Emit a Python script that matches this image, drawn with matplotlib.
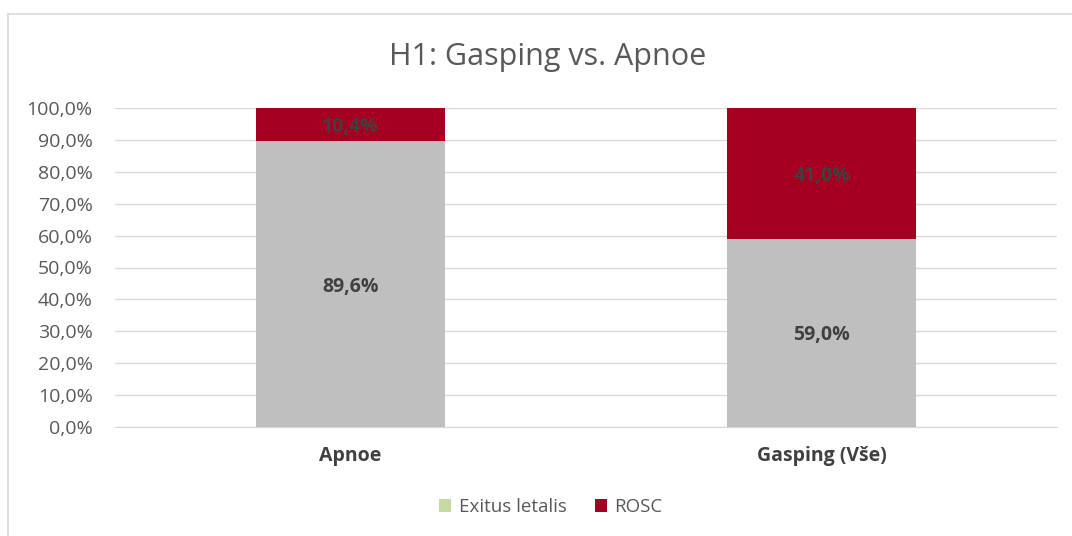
import numpy as np
import matplotlib.pyplot as plt
from matplotlib.lines import Line2D
from matplotlib.patches import Patch

categories = ["Apnoe", "Gasping (Vše)"]
exitus = [89.6, 59.0]
rosc = [10.4, 41.0]
series_names = ["Exitus letalis", "ROSC"]

plt.rcParams["font.family"] = ["Open Sans", "DejaVu Sans"]

fig = plt.figure(figsize=(10.72, 5.36), dpi=100)
ax = fig.add_axes([115 / 1072, 1 - 427 / 536, 942 / 1072, 319 / 536])

x = np.arange(len(categories))
w = 0.4
grey, red, txt = "#BFBFBF", "#A50021", "#404040"
ax.bar(x, exitus, width=w, color=grey, zorder=3)
ax.bar(x, rosc, width=w, bottom=exitus, color=red, zorder=3)

for xi, e, r in zip(x, exitus, rosc):
    ax.text(xi, e / 2, f"{e:.1f}%".replace(".", ","), ha="center", va="center_baseline",
            fontsize=14, fontweight="bold", color=txt, zorder=4)
    ax.text(xi, e + r / 2, f"{r:.1f}%".replace(".", ","), ha="center", va="center_baseline",
            fontsize=14, fontweight="bold", color=txt, zorder=4)

ax.set_xlim(-0.5, 1.5)
ax.set_ylim(0, 100)
ax.set_yticks(np.arange(0, 101, 10))
ax.set_yticklabels([f"{v:.1f}%".replace(".", ",") for v in np.arange(0, 101, 10)])
ax.yaxis.grid(True, color="#D9D9D9", linewidth=1.0, zorder=0)
ax.set_axisbelow(True)
for s in ["top", "right", "left"]:
    ax.spines[s].set_visible(False)
ax.spines["bottom"].set_color("#D9D9D9")
ax.tick_params(axis="y", length=0, labelsize=14, labelcolor="#595959", pad=16)
ax.tick_params(axis="x", length=0, labelsize=14, labelcolor=txt, pad=14)
ax.set_xticks(x)
ax.set_xticklabels(categories, fontweight="bold")

fig.text(548 / 1072, 1 - 57 / 536, "H1: Gasping vs. Apnoe", ha="center", va="center",
         fontsize=22, color="#595959")

handles = [Patch(facecolor="#C5D9A0", edgecolor="none"), Patch(facecolor=red, edgecolor="none")]
fig.legend(handles, series_names, loc="center", bbox_to_anchor=(551 / 1072, 1 - 507 / 536),
           ncol=2, frameon=False, fontsize=13.5, handlelength=0.65, handleheight=0.65,
           handletextpad=0.4, columnspacing=1.5, labelcolor="#595959")

# chart border
fig.add_artist(Line2D([8 / 1072, 8 / 1072], [0, 1 - 14 / 536], transform=fig.transFigure,
                      color="#D9D9D9", linewidth=1.2))
fig.add_artist(Line2D([8 / 1072, 1], [1 - 14 / 536, 1 - 14 / 536], transform=fig.transFigure,
                      color="#D9D9D9", linewidth=1.2))

fig.savefig("out.png", dpi=100)
